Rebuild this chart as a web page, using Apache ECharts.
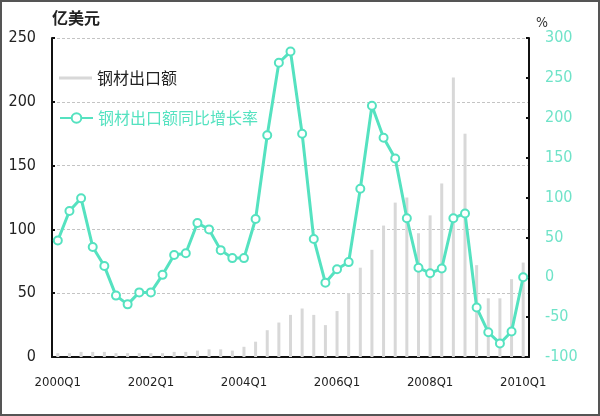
<!DOCTYPE html>
<html><head><meta charset="utf-8">
<script src="https://cdn.jsdelivr.net/npm/echarts@6/dist/echarts.min.js"></script>
<style>
html,body{margin:0;padding:0;background:#fff;}
#c{width:600px;height:416px;box-sizing:border-box;border:2px solid #555;}
</style></head><body>
<div id="c"></div>
<script>
const categories = [
 '2000Q1','2000Q2','2000Q3','2000Q4','2001Q1','2001Q2','2001Q3','2001Q4',
 '2002Q1','2002Q2','2002Q3','2002Q4','2003Q1','2003Q2','2003Q3','2003Q4',
 '2004Q1','2004Q2','2004Q3','2004Q4','2005Q1','2005Q2','2005Q3','2005Q4',
 '2006Q1','2006Q2','2006Q3','2006Q4','2007Q1','2007Q2','2007Q3','2007Q4',
 '2008Q1','2008Q2','2008Q3','2008Q4','2009Q1','2009Q2','2009Q3','2009Q4','2010Q1'];
const exportValue = [3,3,4,4, 4,3,3,3, 3,3,4,4, 5,6,6,5, 8,12,21,27, 33,38,33,25, 36,50,70,84, 103,121,125,97, 111,136,219,175, 72,46,46,61,74];
const yoyGrowth = [46,83,99,38, 14,-23,-34,-19, -19,3,28,30, 68,60,34,24, 24,73,178,269, 283,180,48,-7, 10,19,111,215, 175,149,74,12, 5,11,74,80, -38,-69,-83,-68,0];
const leftTicks = {min:0,max:250,interval:50};
const rightTicks = {min:-100,max:300,interval:50};

const lineColor = '#55e2c0';
const cjk = '"Noto Sans CJK SC", sans-serif';
const num = '"Liberation Sans Narrow","DejaVu Sans Condensed","Liberation Sans",sans-serif';
const chart = echarts.init(document.getElementById('c'));
chart.setOption({
  animation:false,
  grid:{left:50,right:69,top:36,bottom:57},
  legend:[
    {data:['钢材出口额'],left:57,top:68,padding:0,icon:'rect',itemWidth:33,itemHeight:3,
     textStyle:{fontFamily:cjk,fontSize:16,color:'#222'}},
    {data:['钢材出口额同比增长率'],left:57,top:108,padding:0,itemWidth:33,itemHeight:12,
     textStyle:{fontFamily:cjk,fontSize:16,color:lineColor}}
  ],
  xAxis:{type:'category',data:categories,boundaryGap:true,
    axisLine:{lineStyle:{color:'#111',width:2}},
    axisTick:{inside:true,interval:1,length:4,lineStyle:{color:'#111',width:2}},
    axisLabel:{interval:7,fontFamily:num,fontSize:13,color:'#222',margin:19}},
  yAxis:[
    {type:'value',min:leftTicks.min,max:leftTicks.max,interval:leftTicks.interval,
     name:'亿美元',nameLocation:'end',nameGap:12,
     nameTextStyle:{fontFamily:cjk,fontSize:16,fontWeight:'bold',color:'#222',align:'left'},
     axisLine:{show:true,lineStyle:{color:'#111',width:2}},
     axisTick:{show:true,inside:true,length:3,lineStyle:{color:'#111',width:2}},
     axisLabel:{fontFamily:num,fontSize:16,color:'#222',margin:16},
     splitLine:{show:true,lineStyle:{color:'#c4c4c4',type:[3,2],width:1}}},
    {type:'value',min:rightTicks.min,max:rightTicks.max,interval:rightTicks.interval,
     name:'%',nameLocation:'end',nameGap:6,
     nameTextStyle:{fontFamily:num,fontSize:14,color:'#333',align:'center',padding:[0,0,0,26]},
     axisLine:{show:true,lineStyle:{color:'#111',width:2}},
     axisTick:{show:true,inside:true,length:3,lineStyle:{color:'#111',width:2}},
     axisLabel:{fontFamily:num,fontSize:16,color:'#6fe3c8',margin:16},
     splitLine:{show:false}}
  ],
  series:[
    {name:'钢材出口额',type:'bar',yAxisIndex:0,data:exportValue,barWidth:3,
     itemStyle:{color:'#d8d8d8'}},
    {name:'钢材出口额同比增长率',type:'line',yAxisIndex:1,data:yoyGrowth,
     symbol:'circle',symbolSize:8,showAllSymbol:true,
     lineStyle:{color:lineColor,width:3},
     itemStyle:{color:'#fff',borderColor:lineColor,borderWidth:2}}
  ]
});
</script></body></html>
